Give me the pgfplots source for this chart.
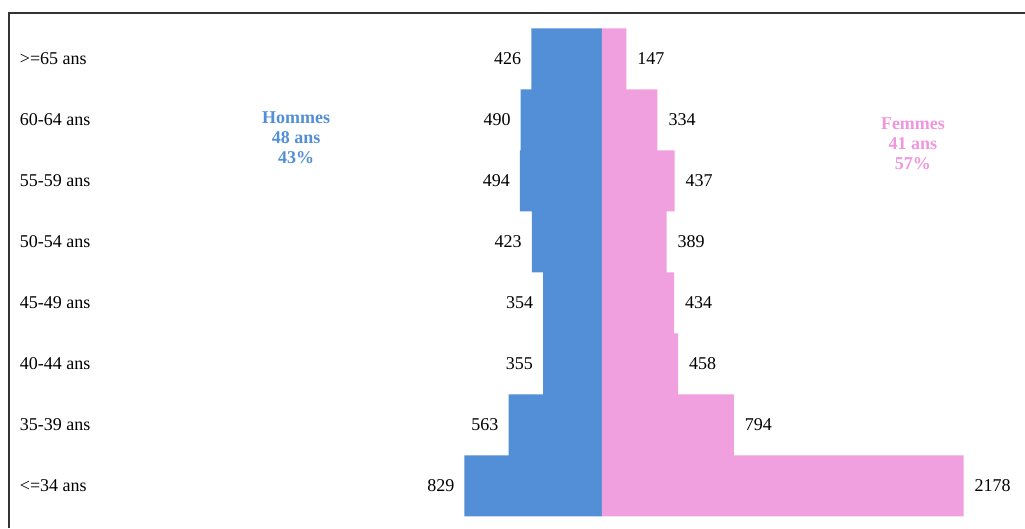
\documentclass[border=0pt]{standalone}
\usepackage{fontspec}
\setmainfont{Liberation Serif}
\usepackage{pgfplots}
\pgfplotsset{compat=1.18}

\definecolor{hommes}{RGB}{82,143,214}
\definecolor{femmes}{RGB}{240,160,222}
\definecolor{femmestxt}{RGB}{240,150,222}

\begin{document}
\begin{tikzpicture}
\begin{axis}[
    scale only axis,
    width=512.5pt, height=264pt,
    xmin=-3626, xmax=2548,
    ymin=-0.689, ymax=7.967,
    xbar, bar width=1, bar shift=0pt,
    axis line style={draw=none},
    tick style={draw=none},
    xtick=\empty,
    ytick={0,...,7},
    yticklabels={{<=34 ans},{35-39 ans},{40-44 ans},{45-49 ans},{50-54 ans},{55-59 ans},{60-64 ans},{>=65 ans}},
    yticklabel style={anchor=west, inner sep=0pt, xshift=14pt, font=\fontsize{9}{10}\selectfont},
    font=\fontsize{9}{10}\selectfont,
    /pgf/number format/1000 sep={},
  ]
  % hommes (negatif), femmes (positif)
  \addplot[draw=none, fill=hommes,
      nodes near coords, point meta={-x},
      every node near coord/.append style={anchor=east, xshift=-1.5pt, text=black,
        /pgf/number format/assume math mode=true, font=\fontsize{9}{10}\selectfont}]
    coordinates {(-829,0) (-563,1) (-355,2) (-354,3) (-423,4) (-494,5) (-490,6) (-426,7)};
  \addplot[draw=none, fill=femmes,
      nodes near coords, point meta=x,
      every node near coord/.append style={anchor=west, xshift=2pt, text=black,
        /pgf/number format/assume math mode=true, font=\fontsize{9}{10}\selectfont}]
    coordinates {(2178,0) (794,1) (458,2) (434,3) (389,4) (437,5) (334,6) (147,7)};

  \draw[black!80, line width=1pt] (rel axis cs:0.0088,0) -- (rel axis cs:0.0088,0.9754) -- (rel axis cs:1,0.9754);
  \node[align=center, text=hommes, font=\bfseries\fontsize{9}{10}\selectfont] at (rel axis cs:0.2888,0.7386) {Hommes\\48 ans\\43\%};
  \node[align=center, text=femmestxt, font=\bfseries\fontsize{9}{10}\selectfont] at (rel axis cs:0.8907,0.727) {Femmes\\41 ans\\57\%};
  \coordinate (bl) at (rel axis cs:0,0);
  \coordinate (tr) at (rel axis cs:1,1);
\end{axis}
\pgfresetboundingbox
\useasboundingbox (bl) rectangle (tr);
\end{tikzpicture}
\end{document}
